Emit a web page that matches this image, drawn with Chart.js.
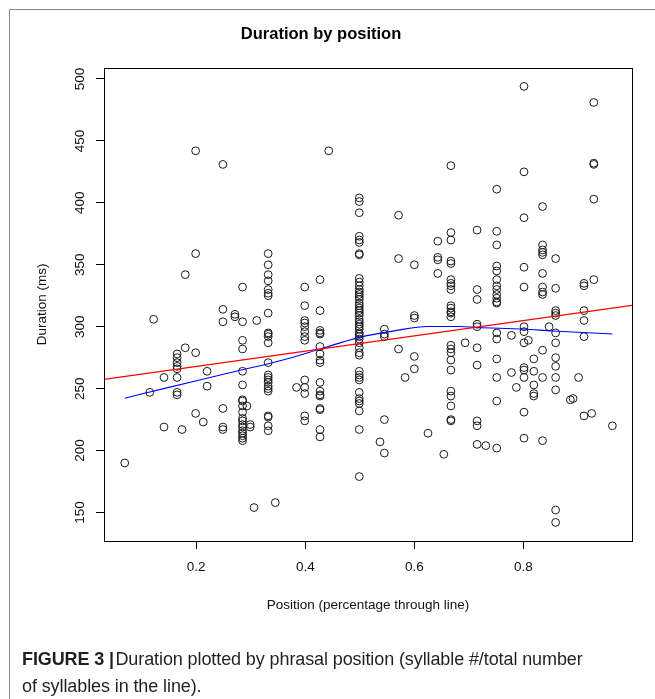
<!DOCTYPE html>
<html>
<head>
<meta charset="utf-8">
<title>Duration by position</title>
<script src="https://cdn.jsdelivr.net/npm/chart.js@4.4.1/dist/chart.umd.min.js"></script>
<style>
    html, body { margin: 0; padding: 0; background: #fff; }
    #wrap { position: relative; width: 655px; height: 699px; overflow: hidden; }
    #frame { position: absolute; left: 9px; top: 9px; width: 660px; height: 700px;
             border-left: 1px solid #8a8a8a; border-top: 1px solid #8a8a8a; }
    #durChart { position: absolute; left: 0; top: 0; }
    #caption { position: absolute; left: 22px; top: 646px; width: 620px;
               font-family: 'Liberation Sans', Arial, sans-serif;
               font-size: 18px; line-height: 27px; letter-spacing: -0.1px; color: #231f20; }
    #caption b { font-weight: bold; }
</style>
</head>
<body>
<div id="wrap">
    <div id="frame"></div>
    <canvas id="durChart" width="655" height="699"></canvas>
    <div id="caption"><b>FIGURE 3 |</b>&#8202;Duration plotted by phrasal position (syllable #/total number<br>of syllables in the line).</div>
</div>

<script>
/* =========================
   Duration by position
   scatter + linear fit (red) + lowess (blue)
========================= */

// x position of each column of points (share of the line)
var columnPositions = [
    0.069, 0.115, 0.122, 0.141, 0.165, 0.174, 0.180, 0.199, 0.213, 0.220,
    0.249, 0.271, 0.285, 0.293, 0.299, 0.306, 0.311, 0.332, 0.345, 0.384,
    0.399, 0.427, 0.443, 0.499, 0.537, 0.545, 0.571, 0.583, 0.600, 0.625,
    0.643, 0.654, 0.667, 0.693, 0.715, 0.731, 0.751, 0.778, 0.787, 0.801,
    0.809, 0.819, 0.835, 0.847, 0.859, 0.886, 0.891, 0.901, 0.911, 0.925,
    0.929, 0.963
];

// durations (ms) found at each of those positions
var columnDurations = [
    [190], [247], [306], [259, 219],
    [278, 275, 271, 268, 266, 259, 247, 245],
    [217], [342, 283], [442, 359, 279, 230], [223], [264, 252],
    [431, 314, 304, 234, 219, 217],
    [310, 308],
    [332, 304, 289, 282, 264, 253, 241, 240, 236, 231, 226, 224, 221, 219, 216, 214, 212, 210, 208],
    [236], [221, 219], [154], [305],
    [359, 350, 342, 337, 330, 327, 325, 311, 295, 294, 292, 287, 271, 261, 259, 257, 255, 252, 250, 248, 228, 227, 220, 216],
    [158], [251],
    [332, 317, 305, 303, 300, 296, 292, 289, 257, 251, 246, 228, 224],
    [338, 313, 297, 295, 294, 284, 278, 273, 271, 255, 248, 245, 244, 234, 233, 217, 211],
    [442],
    [404, 401, 392, 373, 370, 368, 359, 358, 339, 336, 333, 330, 328, 326, 324, 322, 319, 317, 315, 313,
     311, 309, 306, 304, 302, 300, 298, 295, 294, 292, 290, 287, 283, 279, 277, 264, 261, 259, 257, 247,
     242, 240, 238, 232, 217, 179],
    [207], [298, 294, 292, 225, 198], [390, 355, 282], [259],
    [350, 309, 307, 276, 266], [214], [369, 356, 354, 343], [197],
    [430, 376, 370, 353, 351, 338, 335, 333, 330, 317, 315, 312, 311, 308, 285, 282, 279, 273, 265, 248, 244, 236, 225, 224],
    [287],
    [378, 330, 322, 302, 300, 283, 269, 224, 220, 205],
    [204],
    [411, 377, 366, 349, 345, 338, 333, 330, 326, 323, 320, 319, 295, 290, 274, 259, 240, 202],
    [293, 263], [251],
    [494, 425, 388, 348, 332, 300, 296, 287, 267, 265, 259, 231, 210],
    [289], [274, 264, 253, 246, 244],
    [397, 366, 362, 360, 358, 343, 332, 328, 326, 281, 259, 208],
    [300],
    [355, 331, 313, 311, 309, 295, 287, 275, 268, 259, 249, 152, 142],
    [241], [242], [259],
    [335, 333, 313, 305, 292, 228],
    [230], [481, 432, 431, 403, 338], [220]
];

// linear fit (red), read at both ends of the x range
var fitX = [0.031, 0.999];
var fitY = [257.5, 317.2];

// lowess smoother (blue)
var lowessX = [0.069, 0.150, 0.250, 0.373, 0.427, 0.500, 0.568, 0.623, 0.684, 0.714, 0.800, 0.854, 0.963];
var lowessY = [242.3, 251.0, 261.6, 274.8, 282.0, 291.4, 297.0, 300.2, 300.2, 299.4, 298.1, 296.5, 294.1];

// axes
var xRange = [0.031, 0.999];
var yRange = [127, 509];
var xTicks = [0.2, 0.4, 0.6, 0.8];
var xTickLabels = ['0.2', '0.4', '0.6', '0.8'];
var yTicks = [150, 200, 250, 300, 350, 400, 450, 500];
var yTickLabels = ['150', '200', '250', '300', '350', '400', '450', '500'];

var FONT = "'Liberation Sans', Arial, Helvetica, sans-serif";

document.addEventListener('DOMContentLoaded', function () {

    var points = [];
    columnPositions.forEach(function (x, i) {
        columnDurations[i].forEach(function (ms) {
            points.push({ x: x, y: ms });
        });
    });

    var fitLine = fitX.map(function (x, i) { return { x: x, y: fitY[i] }; });
    var lowLine = lowessX.map(function (x, i) { return { x: x, y: lowessY[i] }; });

    /* box round the plot + vertical y labels, R style */
    var rBox = {
        id: 'rBox',
        afterDatasetsDraw: function (chart) {
            var a = chart.chartArea, ctx = chart.ctx;
            ctx.save();
            ctx.strokeStyle = '#000';
            ctx.lineWidth = 1;
            ctx.strokeRect(Math.round(a.left) + 0.5, Math.round(a.top) + 0.5,
                           Math.round(a.right - a.left), Math.round(a.bottom - a.top));
            ctx.restore();
        },
        afterDraw: function (chart) {
            var sc = chart.scales.y, ctx = chart.ctx;
            ctx.save();
            ctx.fillStyle = '#111';
            ctx.font = '13.5px ' + FONT;
            ctx.textAlign = 'center';
            ctx.textBaseline = 'middle';
            sc.ticks.forEach(function (t, i) {
                var y = sc.getPixelForValue(t.value);
                ctx.save();
                ctx.translate(80, y);
                ctx.rotate(-Math.PI / 2);
                ctx.fillText(yTickLabels[i], 0, 0);
                ctx.restore();
            });
            ctx.restore();
        }
    };

    new Chart(document.getElementById('durChart'), {
        type: 'scatter',
        data: {
            datasets: [
                {
                    label: 'Duration',
                    data: points,
                    pointStyle: 'circle',
                    pointRadius: 3.9,
                    pointBorderWidth: 1,
                    pointBorderColor: '#1a1a1a',
                    pointBackgroundColor: 'rgba(0,0,0,0)',
                    showLine: false,
                    order: 3
                },
                {
                    label: 'Linear fit',
                    data: fitLine,
                    showLine: true,
                    borderColor: '#ff0000',
                    borderWidth: 1.1,
                    pointRadius: 0,
                    tension: 0,
                    order: 1
                },
                {
                    label: 'Lowess',
                    data: lowLine,
                    showLine: true,
                    borderColor: '#0000ff',
                    borderWidth: 1.1,
                    pointRadius: 0,
                    cubicInterpolationMode: 'monotone',
                    order: 2
                }
            ]
        },
        options: {
            responsive: false,
            animation: false,
            events: [],
            layout: { padding: { left: 10, right: 23, top: 0, bottom: 78 } },
            plugins: {
                legend: { display: false },
                tooltip: { enabled: false },
                title: {
                    display: true,
                    text: 'Duration by position',
                    color: '#000',
                    font: { family: FONT, size: 16.5, weight: 'bold' },
                    padding: { top: 25, bottom: 23 }
                }
            },
            scales: {
                x: {
                    type: 'linear',
                    min: xRange[0],
                    max: xRange[1],
                    afterBuildTicks: function (s) { s.ticks = xTicks.map(function (v) { return { value: v }; }); },
                    afterFit: function (s) { s.height = 80; },
                    border: { display: false },
                    grid: { drawOnChartArea: false, drawTicks: true, tickLength: 8, color: '#000', lineWidth: 1 },
                    ticks: {
                        color: '#111',
                        font: { family: FONT, size: 13.5 },
                        padding: 10,
                        maxRotation: 0,
                        callback: function (v, i) { return xTickLabels[i]; }
                    },
                    title: {
                        display: true,
                        text: 'Position (percentage through line)',
                        color: '#111',
                        font: { family: FONT, size: 13.5 },
                        padding: { top: 0, bottom: 8 }
                    }
                },
                y: {
                    type: 'linear',
                    min: yRange[0],
                    max: yRange[1],
                    afterBuildTicks: function (s) { s.ticks = yTicks.map(function (v) { return { value: v }; }); },
                    afterFit: function (s) { s.width = 94; },
                    border: { display: false },
                    grid: { drawOnChartArea: false, drawTicks: true, tickLength: 8, color: '#000', lineWidth: 1 },
                    ticks: { display: false },
                    title: {
                        display: true,
                        text: 'Duration (ms)',
                        color: '#111',
                        font: { family: FONT, size: 13.5 },
                        padding: { top: 24, bottom: 0 }
                    }
                }
            }
        },
        plugins: [rBox]
    });
});
</script>
</body>
</html>
